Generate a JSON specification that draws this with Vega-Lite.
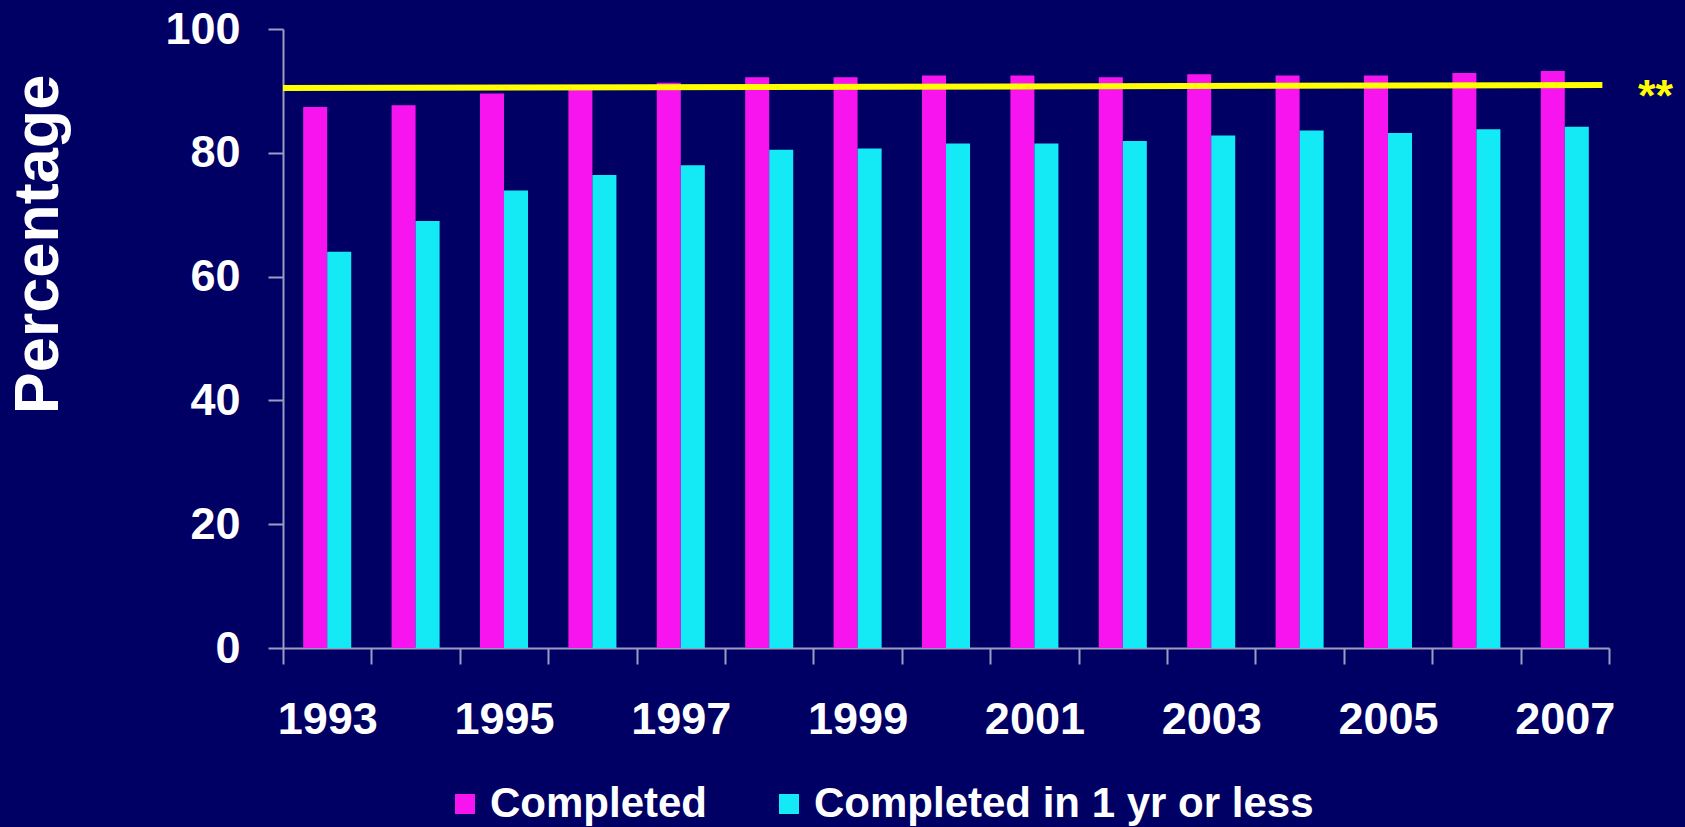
{
  "$schema": "https://vega.github.io/schema/vega-lite/v6.json",
  "width": 1326,
  "height": 619,
  "autosize": {"type": "none"},
  "padding": {"left": 283, "top": 29, "right": 76, "bottom": 179},
  "background": "#000064",
  "config": {"view": {"stroke": null}, "font": "Liberation Sans"},
  "layer": [
    {
      "data": {
        "values": [
          {"year": "1993", "series": "Completed", "pct": 87.4},
          {"year": "1994", "series": "Completed", "pct": 87.7},
          {"year": "1995", "series": "Completed", "pct": 89.6},
          {"year": "1996", "series": "Completed", "pct": 90.3},
          {"year": "1997", "series": "Completed", "pct": 91.3},
          {"year": "1998", "series": "Completed", "pct": 92.2},
          {"year": "1999", "series": "Completed", "pct": 92.2},
          {"year": "2000", "series": "Completed", "pct": 92.5},
          {"year": "2001", "series": "Completed", "pct": 92.5},
          {"year": "2002", "series": "Completed", "pct": 92.2},
          {"year": "2003", "series": "Completed", "pct": 92.7},
          {"year": "2004", "series": "Completed", "pct": 92.5},
          {"year": "2005", "series": "Completed", "pct": 92.5},
          {"year": "2006", "series": "Completed", "pct": 92.9},
          {"year": "2007", "series": "Completed", "pct": 93.2},
          {"year": "1993", "series": "Completed in 1 yr or less", "pct": 64.0},
          {"year": "1994", "series": "Completed in 1 yr or less", "pct": 69.0},
          {"year": "1995", "series": "Completed in 1 yr or less", "pct": 73.9},
          {"year": "1996", "series": "Completed in 1 yr or less", "pct": 76.4},
          {"year": "1997", "series": "Completed in 1 yr or less", "pct": 78.0},
          {"year": "1998", "series": "Completed in 1 yr or less", "pct": 80.5},
          {"year": "1999", "series": "Completed in 1 yr or less", "pct": 80.7},
          {"year": "2000", "series": "Completed in 1 yr or less", "pct": 81.5},
          {"year": "2001", "series": "Completed in 1 yr or less", "pct": 81.5},
          {"year": "2002", "series": "Completed in 1 yr or less", "pct": 81.9},
          {"year": "2003", "series": "Completed in 1 yr or less", "pct": 82.8},
          {"year": "2004", "series": "Completed in 1 yr or less", "pct": 83.6},
          {"year": "2005", "series": "Completed in 1 yr or less", "pct": 83.2},
          {"year": "2006", "series": "Completed in 1 yr or less", "pct": 83.8},
          {"year": "2007", "series": "Completed in 1 yr or less", "pct": 84.2}
        ]
      },
      "mark": {"type": "bar"},
      "encoding": {
        "x": {
          "field": "year",
          "type": "ordinal",
          "scale": {"paddingInner": 0, "paddingOuter": 0},
          "axis": {
            "title": null,
            "tickBand": "extent",
            "labelAngle": 0,
            "labelExpr": "toNumber(datum.label) % 2 == 1 ? datum.label : ''",
            "labelOverlap": false,
            "labelBound": false,
            "labelFontSize": 45,
            "labelFontWeight": "bold",
            "labelColor": "#ffffff",
            "tickSize": 16,
            "labelPadding": 33,
            "domainColor": "#9c9cc0",
            "tickColor": "#9c9cc0",
            "domainWidth": 2,
            "tickWidth": 2
          }
        },
        "xOffset": {
          "field": "series",
          "type": "nominal",
          "sort": ["Completed", "Completed in 1 yr or less"],
          "scale": {"paddingInner": 0, "paddingOuter": 0.84}
        },
        "y": {
          "field": "pct",
          "type": "quantitative",
          "scale": {"domain": [0, 100], "nice": false},
          "axis": {
            "title": "Percentage",
            "values": [0, 20, 40, 60, 80, 100],
            "grid": false,
            "tickSize": 15,
            "labelPadding": 28,
            "labelFontSize": 45,
            "labelFontWeight": "bold",
            "labelColor": "#ffffff",
            "domainColor": "#9c9cc0",
            "tickColor": "#9c9cc0",
            "domainWidth": 2,
            "tickWidth": 2,
            "titleFontSize": 63,
            "titleFontWeight": "bold",
            "titleColor": "#ffffff",
            "titleAngle": -90,
            "titleX": -226,
            "titleY": 215,
            "titleBaseline": "alphabetic",
            "titleAlign": "center"
          }
        },
        "color": {
          "field": "series",
          "type": "nominal",
          "scale": {
            "domain": ["Completed", "Completed in 1 yr or less"],
            "range": ["#f814ee", "#14eaf5"]
          },
          "legend": {
            "orient": "none",
            "legendX": 161,
            "legendY": 754,
            "direction": "horizontal",
            "title": null,
            "symbolType": "square",
            "symbolSize": 400,
            "symbolStrokeWidth": 0,
            "symbolOpacity": 1,
            "labelFontSize": 42,
            "labelFontWeight": "bold",
            "labelColor": "#ffffff",
            "labelOffset": 4,
            "columnPadding": 60,
            "padding": 0,
            "labelLimit": 0
          }
        }
      }
    },
    {
      "data": {"values": [{"t": 0, "pct": 90.45}, {"t": 0.995, "pct": 90.95}]},
      "mark": {"type": "line", "color": "#ffff00", "strokeWidth": 6},
      "encoding": {
        "x": {"field": "t", "type": "quantitative", "scale": {"domain": [0, 1], "nice": false, "zero": false}, "axis": null},
        "y": {"field": "pct", "type": "quantitative"}
      }
    },
    {
      "data": {"values": [{"t": 1.035, "pct": 90.95, "label": "**"}]},
      "mark": {"type": "text", "color": "#ffff00", "fontSize": 45, "fontWeight": "bold", "baseline": "alphabetic", "dy": 26, "clip": false},
      "encoding": {
        "x": {"field": "t", "type": "quantitative", "scale": {"domain": [0, 1], "nice": false, "zero": false}, "axis": null},
        "y": {"field": "pct", "type": "quantitative"},
        "text": {"field": "label"}
      }
    }
  ],
  "resolve": {"scale": {"x": "independent"}}
}
